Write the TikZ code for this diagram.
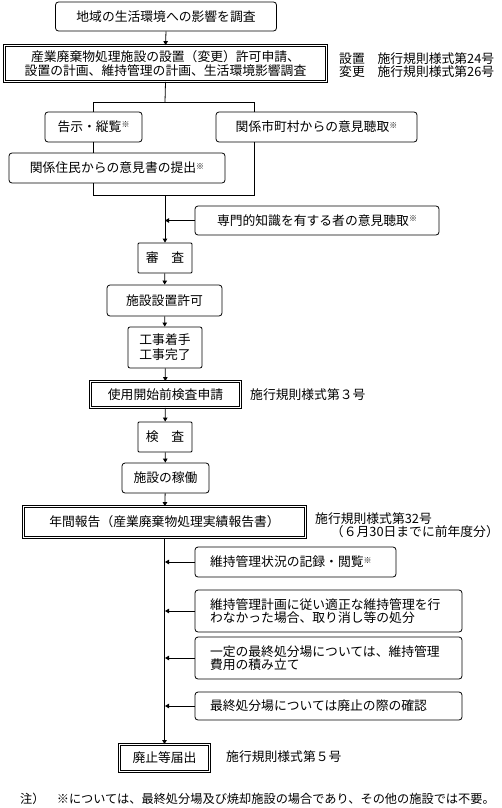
\documentclass[tikz,border=0pt]{standalone}
\usepackage{fontspec}
\setmainfont{Noto Sans CJK JP}
\usetikzlibrary{arrows.meta}
\newcommand{\komej}{\raisebox{0.55ex}{\fontsize{8}{8}\selectfont ※}}
\begin{document}
\begin{tikzpicture}[x=1pt,y=-1pt,
 every node/.style={font=\fontsize{12.8}{13.5}\selectfont, inner sep=0pt},
 base/.style={draw, line width=0.8pt, align=center},
 rbox/.style={base, rounded corners=3pt},
 sbox/.style={base, rounded corners=1pt},
 dbox/.style={base, double, double distance=1.6pt},
 lbox/.style={rbox, align=left, inner xsep=15pt},
 lbl/.style={anchor=west, align=left},
 arr/.style={line width=0.8pt, -{Triangle[length=4pt,width=4.5pt]}},
 ln/.style={line width=0.8pt}
]
\useasboundingbox (0,0) rectangle (502,808);

\node[rbox, minimum width=221pt, minimum height=29pt] (b1) at (166,16.5) {地域の生活環境への影響を調査};
\node[dbox, minimum width=322pt, minimum height=36pt] (b2) at (165.5,63.5) {産業廃棄物処理施設の設置（変更）許可申請、\\設置の計画、維持管理の計画、生活環境影響調査};
\node[lbl] (t2) at (339,65) {設置　施行規則様式第24号\\変更　施行規則様式第26号};

\node[rbox, minimum width=97pt, minimum height=30pt] (b3) at (93.5,127) {告示・縦覧\komej};
\node[rbox, minimum width=201pt, minimum height=30pt] (b4) at (316.5,127) {関係市町村からの意見聴取\komej};
\node[rbox, minimum width=216pt, minimum height=30pt] (b5) at (117,168) {関係住民からの意見書の提出\komej};
\node[rbox, minimum width=244pt, minimum height=29pt] (b6) at (317,220.5) {専門的知識を有する者の意見聴取\komej};

\node[sbox, minimum width=54pt, minimum height=30pt] (b7) at (165,258) {審　査};
\node[rbox, minimum width=115pt, minimum height=31pt] (b8) at (164.5,300.5) {施設設置許可};
\node[base, rounded corners=2pt, minimum width=74pt, minimum height=41pt, font=\fontsize{12.8}{15}\selectfont] (b9) at (165,347.5) {工事着手\\工事完了};
\node[dbox, minimum width=150pt, minimum height=26pt] (b10) at (165.5,394.5) {使用開始前検査申請};
\node[lbl] (t10) at (250,395) {施行規則様式第３号};
\node[sbox, minimum width=54pt, minimum height=30pt] (b11) at (165,437) {検　査};
\node[rbox, minimum width=87pt, minimum height=30pt] (b12) at (165.5,478) {施設の稼働};
\node[dbox, minimum width=282pt, minimum height=31pt] (b13) at (164.5,522) {年間報告（産業廃棄物処理実績報告書）};
\node[lbl] (t13a) at (315,519) {施行規則様式第32号};
\node[anchor=east] (t13b) at (499,532) {（６月30日までに前年度分）};

\node[lbox, text width=171pt, minimum height=30pt] (b14) at (295.5,562) {維持管理状況の記録・閲覧\komej};
\node[lbox, text width=237pt, minimum height=42pt, font=\fontsize{12.8}{13}\selectfont] (b15) at (328.5,611) {維持管理計画に従い適正な維持管理を行\\わなかった場合、取り消し等の処分};
\node[lbox, text width=237pt, minimum height=42pt, font=\fontsize{12.8}{13}\selectfont] (b16) at (328.5,658) {一定の最終処分場については、維持管理\\費用の積み立て};
\node[lbox, text width=237pt, minimum height=28pt] (b17) at (328.5,706) {最終処分場については廃止の際の確認};

\node[dbox, minimum width=90pt, minimum height=27pt] (b18) at (164.5,758) {廃止等届出};
\node[lbl] (t18) at (226,757) {施行規則様式第５号};

\node[anchor=west, font=\fontsize{12.2}{13}\selectfont] (note) at (20,799) {注）　※については、最終処分場及び焼却施設の場合であり、その他の施設では不要。};

% connectors
\coordinate (m1) at (165,102);
\coordinate (l1) at (93,102);
\coordinate (r1) at (254,102);
\coordinate (l2) at (93,195);
\coordinate (r2) at (254,195);
\coordinate (m2) at (165,195);

\draw[arr] (b1.south) -- (b2.north);
\draw[ln] (b2.south) -- (m1);
\draw[ln] (l1) -- (r1);
\draw[ln] (l1) -- (l1 |- b3.north);
\draw[ln] (r1) -- (r1 |- b4.north);
\draw[ln] (b3.south) -- (b3.south |- b5.north);
\draw[ln] (l1 |- b5.south) -- (l2) -- (r2) -- (r2 |- b4.south);
\draw[arr] (m2) -- (b7.north);
\draw[arr] (b6.west) -- (b6.west -| m2);

\draw[arr] (b7) -- (b8);
\draw[arr] (b8) -- (b9);
\draw[arr] (b9) -- (b10);
\draw[arr] (b10) -- (b11);
\draw[arr] (b11) -- (b12);
\draw[arr] (b12) -- (b13);
\draw[arr] (b13) -- (b18);

\draw[arr] (b14.west) -- (b14.west -| m2);
\draw[arr] (b15.west) -- (b15.west -| m2);
\draw[arr] (b16.west) -- (b16.west -| m2);
\draw[arr] (b17.west) -- (b17.west -| m2);
\end{tikzpicture}
\end{document}
